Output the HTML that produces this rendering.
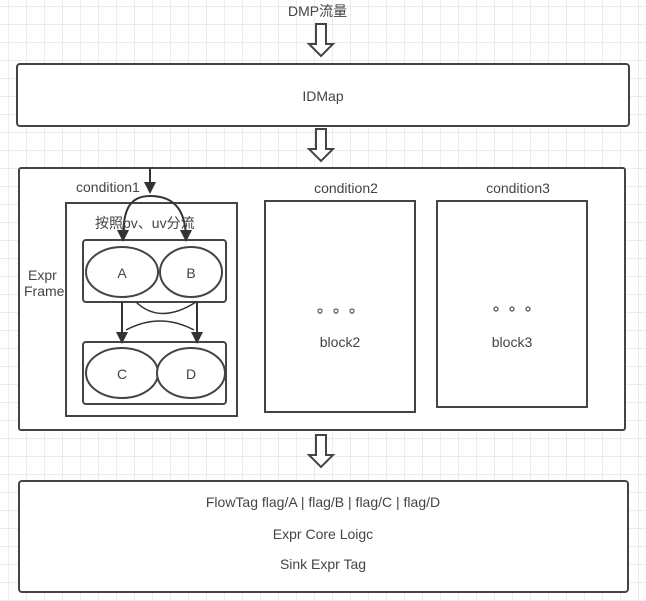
<!DOCTYPE html>
<html><head><meta charset="utf-8"><style>
html,body{margin:0;padding:0;}
body{width:646px;height:601px;overflow:hidden;background:#fff;
background-image:linear-gradient(#ececec 1px,transparent 1px),linear-gradient(90deg,#ececec 1px,transparent 1px);background-size:18px 18px;background-position:8px 6px;}
svg{position:absolute;left:0;top:0;}
text{font-family:"Liberation Sans","Noto Sans CJK SC",sans-serif;fill:#444;font-size:14px;}
</style></head><body>
<svg width="646" height="601" viewBox="0 0 646 601">
<defs><marker id="ah" markerWidth="12" markerHeight="12" refX="10" refY="6" orient="auto" markerUnits="userSpaceOnUse"><path d="M0,0 L12,6 L0,12 Z" fill="#333"/></marker></defs>
<g fill="#fff" stroke="#444" stroke-width="2">
<rect x="17" y="64" width="612" height="62" rx="3"/>
<rect x="19" y="168" width="606" height="262" rx="2"/>
<rect x="66" y="203" width="171" height="213"/>
<rect x="83" y="240" width="143" height="62" rx="3"/>
<rect x="83" y="342" width="143" height="62" rx="3"/>
<ellipse cx="122" cy="272" rx="36" ry="25"/>
<ellipse cx="191" cy="272" rx="31" ry="25"/>
<ellipse cx="122" cy="373" rx="36" ry="25"/>
<ellipse cx="191" cy="373" rx="34" ry="25"/>
<rect x="265" y="201" width="150" height="211"/>
<rect x="437" y="201" width="150" height="206"/>
<rect x="19" y="481" width="609" height="111" rx="3"/>
<path d="M316,24 h10 v20 h7 l-12,12 l-12,-12 h7 z"/>
<path d="M316,129 h10 v20 h7 l-12,12 l-12,-12 h7 z"/>
<path d="M316,435 h10 v20 h7 l-12,12 l-12,-12 h7 z"/>
</g>
<g fill="none" stroke="#333" stroke-width="2">
<line x1="150" y1="168" x2="150" y2="192" marker-end="url(#ah)"/>
<path d="M150,196 C128,196 123,212 123,240" marker-end="url(#ah)"/>
<path d="M150,196 C176,196 186,212 186,240" marker-end="url(#ah)"/>
<line x1="122" y1="302" x2="122" y2="342" marker-end="url(#ah)"/>
<line x1="197" y1="302" x2="197" y2="342" marker-end="url(#ah)"/>
<path d="M136,302 Q160,325 196,302" stroke-width="1.5"/>
<path d="M126,330 Q160,312 194,330" stroke-width="1.5"/>
</g>
<text x="288" y="16">DMP流量</text>
<text x="323" y="101" text-anchor="middle">IDMap</text>
<text x="76" y="192">condition1</text>
<text x="346" y="193" text-anchor="middle">condition2</text>
<text x="518" y="193" text-anchor="middle">condition3</text>
<text x="95" y="228">按照pv、uv分流</text>
<text x="28" y="280">Expr</text>
<text x="24" y="296">Frame</text>
<text x="122" y="278" text-anchor="middle">A</text>
<text x="191" y="278" text-anchor="middle">B</text>
<text x="122" y="379" text-anchor="middle">C</text>
<text x="191" y="379" text-anchor="middle">D</text>
<g fill="none" stroke="#555" stroke-width="1.2">
<circle cx="320" cy="311" r="2"/><circle cx="336" cy="311" r="2"/><circle cx="352" cy="311" r="2"/>
<circle cx="496" cy="309" r="2"/><circle cx="512" cy="309" r="2"/><circle cx="528" cy="309" r="2"/>
</g>
<text x="340" y="347" text-anchor="middle">block2</text>
<text x="512" y="347" text-anchor="middle">block3</text>
<text x="323" y="507" text-anchor="middle">FlowTag flag/A | flag/B | flag/C | flag/D</text>
<text x="323" y="539" text-anchor="middle">Expr Core Loigc</text>
<text x="323" y="569" text-anchor="middle">Sink Expr Tag</text>
</svg>
</body></html>
